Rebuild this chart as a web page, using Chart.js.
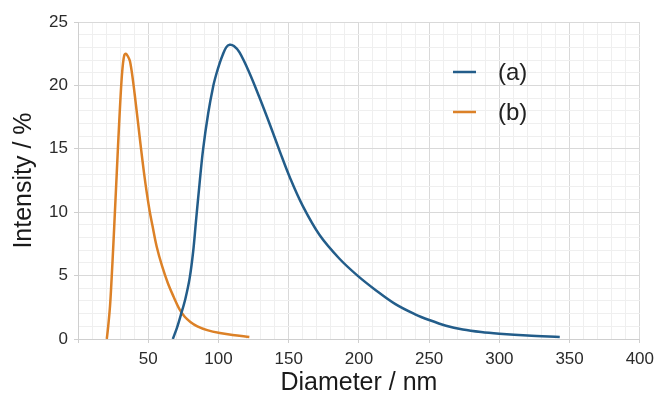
<!DOCTYPE html>
<html>
<head>
<meta charset="utf-8">
<script src="https://cdn.jsdelivr.net/npm/chart.js@4/dist/chart.umd.min.js"></script>
<style>
  html, body { margin: 0; padding: 0; background: #fff; }
  #wrap { width: 660px; height: 394px; }
</style>
</head>
<body>
<div id="wrap"><canvas id="sizeChart" width="660" height="394"></canvas></div>
<script>
// --- data ---
const diameterA = [67.5, 70.5, 73.5, 76.5, 79.5, 82, 84, 86.5, 89, 92.7, 96.2, 98.5, 101, 103, 105.5, 108, 111, 115, 122, 129, 137, 144, 151, 160, 172, 186, 199, 212, 226, 240, 250, 262, 274, 287, 300, 320, 343];
const intensityA = [0, 0.9, 2.0, 3.2, 4.8, 6.9, 9.3, 12.2, 14.9, 17.8, 19.9, 20.9, 21.8, 22.4, 23.0, 23.2, 23.1, 22.6, 21.0, 19.1, 16.8, 14.7, 12.7, 10.5, 8.2, 6.35, 5.0, 3.85, 2.75, 1.95, 1.5, 1.05, 0.75, 0.55, 0.42, 0.27, 0.15];

const diameterB = [20.5, 21.5, 22.8, 24, 25.2, 26.4, 27.6, 28.8, 30, 31, 32, 33, 34, 35.5, 37, 39, 41, 43, 45, 47, 49, 51, 53, 56, 60, 64, 68, 72, 76, 80, 85, 92, 101, 110, 122];
const intensityB = [0, 1.0, 2.6, 4.9, 7.5, 10.3, 13.1, 15.9, 18.5, 20.4, 21.7, 22.4, 22.5, 22.3, 21.9, 20.5, 18.7, 16.8, 14.9, 13.1, 11.5, 10.1, 8.95, 7.3, 5.7, 4.4, 3.35, 2.4, 1.75, 1.35, 1.0, 0.7, 0.47, 0.32, 0.16];

const seriesLabels = ['(a)', '(b)'];
const seriesColors = ['#235d8a', '#dc8127'];

const xTicks = { min: 0, max: 400, major: 50, minor: 10 };
const yTicks = { min: 0, max: 25, major: 5, minor: 1 };

const FONT = "'Liberation Sans', Arial, sans-serif";

function toPoints(xs, ys) {
    return xs.map((x, i) => ({ x: x, y: ys[i] }));
}

// legend drawn inside the plot area, like the original
const innerLegend = {
    id: 'innerLegend',
    afterDraw(chart) {
        const c = chart.ctx;
        c.save();
        c.font = '24px ' + FONT;
        c.textBaseline = 'middle';
        chart.data.datasets.forEach((ds, i) => {
            const y = 72 + i * 40;
            c.strokeStyle = ds.borderColor;
            c.lineWidth = 2.5;
            c.beginPath();
            c.moveTo(453, y);
            c.lineTo(476, y);
            c.stroke();
            c.fillStyle = '#222';
            c.fillText(ds.label, 498, y + 1);
        });
        c.restore();
    }
};

const ctx = document.getElementById('sizeChart');

new Chart(ctx, {
    type: 'line',
    data: {
        datasets: [{
            label: seriesLabels[0],
            data: toPoints(diameterA, intensityA),
            borderColor: seriesColors[0],
            borderWidth: 2.5,
            pointRadius: 0,
            fill: false,
            tension: 0.35
        }, {
            label: seriesLabels[1],
            data: toPoints(diameterB, intensityB),
            borderColor: seriesColors[1],
            borderWidth: 2.5,
            pointRadius: 0,
            fill: false,
            tension: 0.35
        }]
    },
    options: {
        responsive: false,
        animation: false,
        layout: { padding: { top: 22, right: 19, left: 0, bottom: 0 } },
        plugins: {
            legend: { display: false },
            tooltip: { enabled: false }
        },
        scales: {
            x: {
                type: 'linear',
                min: xTicks.min,
                max: xTicks.max,
                afterFit: (s) => { s.height = 55; },
                border: { color: '#cfcfcf', width: 1 },
                grid: {
                    color: (c) => (c.tick && c.tick.value % xTicks.major === 0) ? '#d9d9d9' : '#efefef',
                    tickColor: (c) => (c.tick && c.tick.value % xTicks.major === 0) ? '#cfcfcf' : 'rgba(0,0,0,0)',
                    tickLength: 4
                },
                ticks: {
                    stepSize: xTicks.minor,
                    autoSkip: false,
                    maxRotation: 0,
                    padding: 6,
                    color: '#2b2b2b',
                    font: { family: FONT, size: 17 },
                    callback: (v) => (v % xTicks.major === 0 && v !== 0) ? v : ''
                },
                title: {
                    display: true,
                    text: 'Diameter / nm',
                    color: '#1a1a1a',
                    font: { family: FONT, size: 25, lineHeight: 0.85 },
                    padding: { top: 0, bottom: 0 }
                }
            },
            y: {
                min: yTicks.min,
                max: yTicks.max,
                afterFit: (s) => { s.width = 78; },
                border: { color: '#cfcfcf', width: 1 },
                grid: {
                    color: (c) => (c.tick && c.tick.value % yTicks.major === 0) ? '#d9d9d9' : '#efefef',
                    tickColor: (c) => (c.tick && c.tick.value % yTicks.major === 0) ? '#cfcfcf' : 'rgba(0,0,0,0)',
                    tickLength: 4
                },
                ticks: {
                    stepSize: yTicks.minor,
                    autoSkip: false,
                    padding: 6,
                    color: '#2b2b2b',
                    font: { family: FONT, size: 17 },
                    callback: (v) => (v % yTicks.major === 0) ? v : ''
                },
                title: {
                    display: true,
                    text: 'Intensity / %',
                    color: '#1a1a1a',
                    font: { family: FONT, size: 25, lineHeight: 1.2 },
                    padding: { top: 9, bottom: 0 }
                }
            }
        }
    },
    plugins: [innerLegend]
});
</script>
</body>
</html>
